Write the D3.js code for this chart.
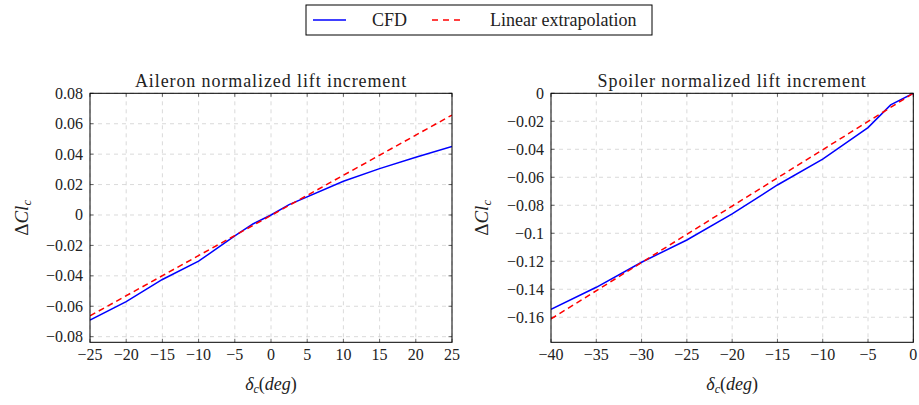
<!DOCTYPE html>
<html><head><meta charset="utf-8">
<script src="https://cdn.jsdelivr.net/npm/d3@7"></script>
<style>body{margin:0;background:#fff;} svg text{font-family:"Liberation Serif","DejaVu Serif",serif !important;}</style></head>
<body><svg id="c" width="919" height="405"></svg>
<script>
// Aileron data
const aileronX = [-25,-20,-15,-10,-5,-2.5,0,2.5,10,15,20,25];
const aileronCFD = [-0.0691,-0.057,-0.0424,-0.0304,-0.0137,-0.0059,0,0.0068,0.0222,0.0305,0.038,0.045];
const aileronLinX = [-25,25];
const aileronLin = [-0.0663,0.0657];
const aileronXTicks = [-25,-20,-15,-10,-5,0,5,10,15,20,25];
const aileronYTicks = [0.08,0.06,0.04,0.02,0,-0.02,-0.04,-0.06,-0.08];
// Spoiler data
const spoilerX = [-40,-35,-30,-25,-20,-15,-10,-5,-2.5,0];
const spoilerCFD = [-0.1543,-0.1386,-0.1207,-0.1048,-0.0862,-0.0655,-0.0471,-0.0245,-0.0083,0];
const spoilerLinX = [-40,0];
const spoilerLin = [-0.1612,0];
const spoilerXTicks = [-40,-35,-30,-25,-20,-15,-10,-5,0];
const spoilerYTicks = [0,-0.02,-0.04,-0.06,-0.08,-0.1,-0.12,-0.14,-0.16];

const svg = d3.select("#c");
const FF = "Liberation Serif";
const fmt = v => v === 0 ? "0" : (v < 0 ? "\u2212" : "") + String(+Math.abs(v).toFixed(3));
const ink = "#222";

function txt(sel){ return sel.attr("font-family",FF).attr("fill",ink); }

function panel(o){
  const x = d3.scaleLinear().domain(o.xd).range([o.x0,o.x1]);
  const y = d3.scaleLinear().domain(o.yd).range([o.y1,o.y0]);
  const g = svg.append("g");
  g.selectAll(".gx").data(o.xt).enter().append("line")
    .attr("x1",d=>x(d)).attr("x2",d=>x(d)).attr("y1",o.y0).attr("y2",o.y1)
    .attr("stroke","#d0d0d0").attr("stroke-width",0.8).attr("stroke-dasharray","4,4");
  g.selectAll(".gy").data(o.yt).enter().append("line")
    .attr("y1",d=>y(d)).attr("y2",d=>y(d)).attr("x1",o.x0).attr("x2",o.x1)
    .attr("stroke","#d0d0d0").attr("stroke-width",0.8).attr("stroke-dasharray","4,4");
  g.selectAll(".tx").data(o.xt).enter().append("path")
    .attr("d",d=>`M${x(d)},${o.y1}v-3.5M${x(d)},${o.y0}v3.5`).attr("stroke","#444").attr("stroke-width",0.8);
  g.selectAll(".ty").data(o.yt).enter().append("path")
    .attr("d",d=>`M${o.x0},${y(d)}h3.5M${o.x1},${y(d)}h-3.5`).attr("stroke","#444").attr("stroke-width",0.8);
  const line = d3.line().x(d=>x(d[0])).y(d=>y(d[1]));
  const clip = "clip"+o.id;
  svg.append("clipPath").attr("id",clip).append("rect").attr("x",o.x0).attr("y",o.y0).attr("width",o.x1-o.x0).attr("height",o.y1-o.y0);
  g.append("path").datum(o.cx.map((v,i)=>[v,o.cy[i]])).attr("d",line)
    .attr("fill","none").attr("stroke","#0000ff").attr("stroke-width",1.5).attr("clip-path",`url(#${clip})`);
  g.append("path").datum(o.lx.map((v,i)=>[v,o.ly[i]])).attr("d",line)
    .attr("fill","none").attr("stroke","#ff0000").attr("stroke-width",1.5).attr("stroke-dasharray","6,4").attr("clip-path",`url(#${clip})`);
  g.append("rect").attr("x",o.x0).attr("y",o.y0).attr("width",o.x1-o.x0).attr("height",o.y1-o.y0)
    .attr("fill","none").attr("stroke","#000").attr("stroke-width",1);
  txt(g.selectAll(".lx").data(o.xt).enter().append("text"))
    .attr("x",d=>x(d)).attr("y",o.y1+18).attr("text-anchor","middle").attr("font-size",16).text(fmt);
  txt(g.selectAll(".ly").data(o.yt).enter().append("text"))
    .attr("x",o.x0-7).attr("y",d=>y(d)+5.5).attr("text-anchor","end").attr("font-size",16).text(fmt);
  txt(g.append("text")).attr("x",(o.x0+o.x1)/2).attr("y",o.y0-6.5).attr("text-anchor","middle").attr("font-size",18)
    .attr("letter-spacing",0.9).text(o.title);
  const xl = txt(g.append("text")).attr("x",(o.x0+o.x1)/2).attr("y",390).attr("text-anchor","middle").attr("font-size",18);
  xl.append("tspan").attr("font-style","italic").text("δ");
  xl.append("tspan").attr("font-style","italic").attr("font-size",12).attr("dy",3).text("c");
  xl.append("tspan").attr("dy",-3).text("(");
  xl.append("tspan").attr("font-style","italic").text("deg");
  xl.append("tspan").text(")");
  const yl = txt(g.append("text")).attr("transform",`translate(${o.ylx},${(o.y0+o.y1)/2}) rotate(-90)`).attr("text-anchor","middle").attr("font-size",19);
  yl.append("tspan").text("Δ");
  yl.append("tspan").attr("font-style","italic").text("Cl");
  yl.append("tspan").attr("font-style","italic").attr("font-size",13).attr("dy",3).text("c");
}

panel({id:"a",x0:90,x1:452,y0:93.3,y1:342.3,xd:[-25,25],yd:[-0.0837,0.08],xt:aileronXTicks,yt:aileronYTicks,
  cx:aileronX,cy:aileronCFD,lx:aileronLinX,ly:aileronLin,title:"Aileron normalized lift increment",ylx:28});
panel({id:"s",x0:551,x1:913.3,y0:93.3,y1:342.3,xd:[-40,0],yd:[-0.1779,0],xt:spoilerXTicks,yt:spoilerYTicks,
  cx:spoilerX,cy:spoilerCFD,lx:spoilerLinX,ly:spoilerLin,title:"Spoiler normalized lift increment",ylx:488});

const lg = svg.append("g");
lg.append("rect").attr("x",306).attr("y",5).attr("width",346).attr("height",30).attr("fill","#fff").attr("stroke","#000").attr("stroke-width",1);
lg.append("line").attr("x1",313).attr("x2",346).attr("y1",20).attr("y2",20).attr("stroke","#0000ff").attr("stroke-width",1.5);
txt(lg.append("text")).attr("x",372).attr("y",25.5).attr("font-size",18).text("CFD");
lg.append("line").attr("x1",432).attr("x2",464).attr("y1",20).attr("y2",20).attr("stroke","#ff0000").attr("stroke-width",1.5).attr("stroke-dasharray","6,5");
txt(lg.append("text")).attr("x",490).attr("y",25.5).attr("font-size",18).text("Linear extrapolation");
</script></body></html>
